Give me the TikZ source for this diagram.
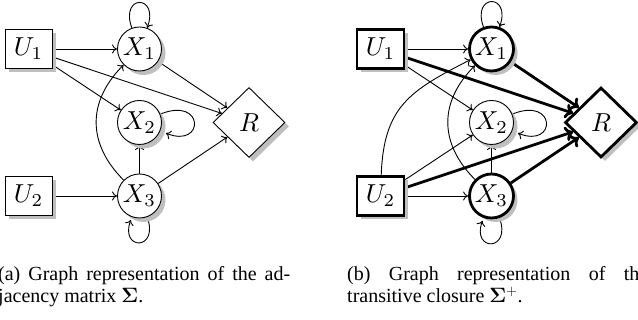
\documentclass[tikz,border=0pt]{standalone}
\usepackage{graphicx}
\usepackage[no-math]{fontspec}
\setmainfont{Liberation Serif}
\usetikzlibrary{shapes.geometric,shadows,backgrounds,arrows.meta}
\newcommand{\nlabel}[1]{\scalebox{2.6}{$#1$}}

\begin{document}
\begin{tikzpicture}[x=1pt,y=1pt,
  shadowed/.style={drop shadow={shadow xshift=4pt,shadow yshift=-4pt,fill=black!25,opacity=1}},
  var/.style={circle,draw,line width=0.9pt,fill=white,minimum size=44pt,inner sep=0pt,shadowed},
  inp/.style={rectangle,draw,line width=0.9pt,fill=white,minimum width=47pt,minimum height=39pt,inner sep=0pt,shadowed},
  rew/.style={diamond,draw,line width=0.9pt,fill=white,minimum width=72pt,minimum height=70pt,inner sep=0pt,shadowed},
  heavyborder/.style={line width=2.8pt},
  arr/.style={line width=0.9pt,-{To[length=5pt,width=9pt]}},
  heavyarr/.style={line width=2.8pt,-{To[length=8pt,width=15pt]}},
  captext/.style={anchor=base west,inner sep=0pt,font=\fontsize{20}{22}\selectfont},
]
\useasboundingbox (0,0) rectangle (638,320);
\clip (0,0) rectangle (638,320);

% ---- (a) adjacency matrix ----
\node[inp] (aU1) at (28.5,271) {\nlabel{U_1}};
\node[inp] (aU2) at (28.5,124) {\nlabel{U_2}};
\node[var] (aX1) at (139.5,271) {\nlabel{X_1}};
\node[var] (aX2) at (139.5,197.5) {\nlabel{X_2}};
\node[var] (aX3) at (139.5,124) {\nlabel{X_3}};
\node[rew] (aR) at (249,197.5) {\nlabel{R}};

\begin{scope}[on background layer]
  \draw[arr] (aU1) -- (aX1);
  \draw[arr] (aU1) -- (aX2);
  \draw[arr] (aU1) -- (aR);
  \draw[arr] (aX1) -- (aR);
  \draw[arr] (aX3) -- (aR);
  \draw[arr] (aX3) -- (aX2);
  \draw[arr] (aU2) -- (aX3);
  \draw[arr] (aX3) to[bend left=45,looseness=1.15] (aX1);
  \draw[arr] (aX1.110) .. controls +(110:36) and +(70:36) .. (aX1.70);
  \draw[arr,shorten >=6pt] (aX2.22) .. controls +(22:48) and +(-22:48) .. (aX2.-22);
  \draw[arr,shorten >=3pt] (aX3.-70) .. controls +(-70:36) and +(-110:36) .. (aX3.-110);
\end{scope}

% ---- (b) transitive closure ----
\node[inp,heavyborder] (bU1) at (380.5,271) {\nlabel{U_1}};
\node[inp,heavyborder] (bU2) at (380.5,124) {\nlabel{U_2}};
\node[var,heavyborder] (bX1) at (491.5,271) {\nlabel{X_1}};
\node[var] (bX2) at (491.5,197.5) {\nlabel{X_2}};
\node[var,heavyborder] (bX3) at (491.5,124) {\nlabel{X_3}};
\node[rew,heavyborder] (bR) at (601,197.5) {\nlabel{R}};

\begin{scope}[on background layer]
  \draw[arr] (bU1) -- (bX1);
  \draw[arr] (bU1) -- (bX2);
  \draw[heavyarr] (bU1) -- (bR);
  \draw[heavyarr] (bX1) -- (bR);
  \draw[heavyarr] (bX3) -- (bR);
  \draw[arr] (bX3) -- (bX2);
  \draw[arr] (bU2) -- (bX3);
  \draw[arr] (bU2) -- (bX2);
  \draw[heavyarr] (bU2) -- (bR);
  \draw[arr] (bU2) to[out=88,in=207,looseness=1.2] (bX1);
  \draw[arr] (bX3) to[bend left=45,looseness=1.15] (bX1);
  \draw[arr] (bX1.110) .. controls +(110:36) and +(70:36) .. (bX1.70);
  \draw[arr,shorten >=6pt] (bX2.22) .. controls +(22:48) and +(-22:48) .. (bX2.-22);
  \draw[arr,shorten >=3pt] (bX3.-70) .. controls +(-70:36) and +(-110:36) .. (bX3.-110);
\end{scope}

% ---- captions ----
\node[captext] (capa1) at (-2,39) {\makebox[292pt][s]{(a) Graph representation of the ad-}};
\node[captext] (capa2) at (-2,17) {jacency matrix $\mathbf{\Sigma}$.};
\node[captext] (capb1) at (347,39) {\makebox[301pt][s]{(b) Graph representation of the}};
\node[captext] (capb2) at (347,17) {transitive closure $\mathbf{\Sigma}^{+}$.};
\end{tikzpicture}
\end{document}
